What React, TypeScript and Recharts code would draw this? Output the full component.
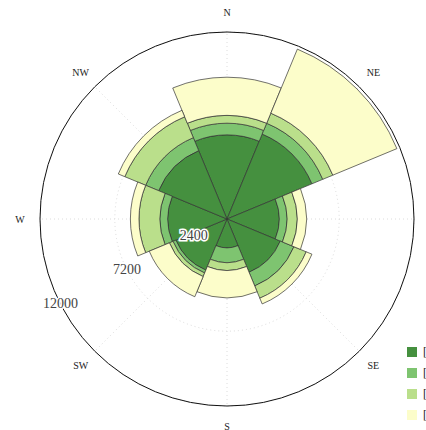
import React from 'react';
import {
  RadialBarChart,
  RadialBar,
  PolarAngleAxis,
  PolarRadiusAxis,
  PolarGrid,
  Legend,
} from 'recharts';

const directions = ['N', 'NE', 'E', 'SE', 'S', 'SW', 'W', 'NW'];

// stacked speed bins (counts per direction)
const speedBin1 = [5400, 5900, 3350, 3700, 1850, 3550, 3800, 4750];
const speedBin2 = [750, 750, 500, 950, 950, 200, 500, 900];
const speedBin3 = [500, 700, 650, 850, 500, 250, 1350, 1450];
const speedBin4 = [2450, 4450, 600, 400, 1750, 1400, 550, 450];

const binLabels = ['[0.0 : 2.0)', '[2.0 : 4.0)', '[4.0 : 6.0)', '[6.0 : inf)'];
const binColors = ['#45903f', '#7ec470', '#badf8b', '#fcfdca'];
const binKeys = ['b1', 'b2', 'b3', 'b4'];

const radiusTicks = [2400, 7200, 12000];

const data = directions.map((dir, i) => ({
  dir,
  b1: speedBin1[i],
  b2: speedBin2[i],
  b3: speedBin3[i],
  b4: speedBin4[i],
}));

const CX = 227;
const CY = 219;
const LABEL_R = 207;
const RAD_ANGLE = 207;
const SECTOR = 360 / directions.length;
// spokes along the compass directions
const spokeAngles = directions.map((_, i) => 90 - i * SECTOR);

const DirTick = (props: any) => {
  // tick sits at the start of the band, label goes to its middle
  const a = ((props.payload.coordinate + SECTOR / 2) * Math.PI) / 180;
  const x = CX + LABEL_R * Math.cos(a);
  const y = CY - LABEL_R * Math.sin(a);
  return (
    <text
      x={x}
      y={y}
      textAnchor="middle"
      dominantBaseline="central"
      fontFamily="Liberation Serif"
      fontSize={10}
      fill="#222"
    >
      {props.payload.value}
    </text>
  );
};

const RadTick = (props: any) => {
  const r = props.payload.coordinate;
  const a = (RAD_ANGLE * Math.PI) / 180;
  const x = CX + r * Math.cos(a);
  const y = CY - r * Math.sin(a);
  return (
    <text
      x={x}
      y={y}
      textAnchor="middle"
      dominantBaseline="central"
      fontFamily="Liberation Serif"
      fontSize={14}
      fill="#444"
      stroke="#fff"
      strokeWidth={3}
      paintOrder="stroke"
    >
      {props.payload.value}
    </text>
  );
};

const LegendBox = () => (
  <div style={{ display: 'flex', flexDirection: 'column', gap: 11 }}>
    {binLabels.map((label, i) => (
      <div key={label} style={{ display: 'flex', alignItems: 'center', height: 10 }}>
        <span
          style={{
            width: 10,
            height: 10,
            background: binColors[i],
            marginRight: 6,
            display: 'inline-block',
          }}
        />
        <span style={{ fontFamily: 'Liberation Serif', fontSize: 12, color: '#222', whiteSpace: 'nowrap' }}>
          {label}
        </span>
      </div>
    ))}
  </div>
);

export default function App() {
  return (
    <div
      style={{
        position: 'fixed',
        left: 0,
        top: 0,
        width: 426,
        height: 430,
        background: '#fff',
        overflow: 'hidden',
      }}
    >
      <RadialBarChart
        width={426}
        height={430}
        data={data}
        layout="centric"
        cx={CX}
        cy={CY}
        innerRadius={0}
        outerRadius={187}
        startAngle={90 - SECTOR / 2}
        endAngle={90 - SECTOR / 2 - 360}
        barCategoryGap={0}
        margin={{ top: 0, right: 0, bottom: 0, left: 0 }}
      >
        <PolarGrid
          gridType="circle"
          stroke="#dcdcdc"
          strokeDasharray="1 3"
          polarAngles={spokeAngles}
        />
        <PolarAngleAxis
          dataKey="dir"
          type="category"
          tick={<DirTick />}
          tickLine={false}
          axisLineType="circle"
          axisLine={{ stroke: '#111', strokeWidth: 1 }}
        />
        <PolarRadiusAxis
          type="number"
          domain={[0, 12000]}
          ticks={radiusTicks}
          angle={RAD_ANGLE}
          axisLine={false}
          tickLine={false}
          tick={<RadTick />}
        />
        {binKeys.map((k, i) => (
          <RadialBar
            key={k}
            dataKey={k}
            name={binLabels[i]}
            stackId="a"
            fill={binColors[i]}
            stroke="#333"
            strokeWidth={0.7}
            isAnimationActive={false}
          />
        ))}
        <Legend
          content={<LegendBox />}
          wrapperStyle={{ position: 'absolute', left: 407, top: 347, width: 120 }}
        />
      </RadialBarChart>
    </div>
  );
}
